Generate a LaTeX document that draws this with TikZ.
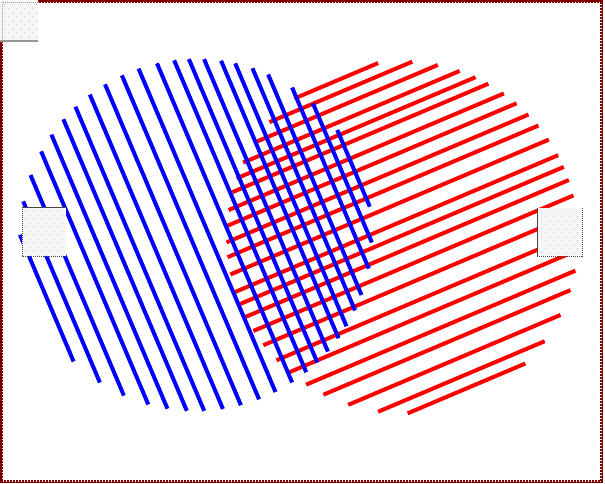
\documentclass[tikz,border=0pt]{standalone}
\usetikzlibrary{calc}
\definecolor{framered}{RGB}{128,0,0}
\definecolor{boxfill}{RGB}{246,246,246}
\definecolor{boxdot}{RGB}{195,195,195}
\definecolor{boxedge}{RGB}{70,70,70}
\definecolor{boxedgelight}{RGB}{150,150,150}
\newcommand{\mydotgrid}[4]{%
  \begin{scope}
    \clip (#1,#2) rectangle ++(#3,#4);
    \foreach \i in {0,...,6}{
      \foreach \j in {0,...,13}{
        \pgfmathsetmacro{\dx}{#1+4+8*\i+4*mod(\j,2)}
        \pgfmathsetmacro{\dy}{#2+4+4*\j}
        \fill[boxdot] (\dx-0.5,\dy-0.5) rectangle ++(1,1);
      }
    }
  \end{scope}}
\begin{document}
\begin{tikzpicture}[x=1pt,y=-1pt,
  hatch/.style={line width=4pt},
  panel/.style={draw=none,fill=boxfill,inner sep=0pt,outer sep=0pt,anchor=north west},
  solidedge/.style={draw=boxedge,line width=1pt},
  dotedge/.style={draw=boxedge,line width=1pt,dash pattern=on 1pt off 1pt}]
\useasboundingbox (0,0) rectangle (605,483);
\fill[white] (0,0) rectangle (605,483);
% frame
\draw[framered,line width=1.5pt] (0.75,0.75) rectangle (602.25,482.25);
\draw[framered,line width=1.5pt,dash pattern=on 2pt off 1pt] (2.25,2.25) rectangle (600.75,480.75);
% red hatched circle
\coordinate (rc) at (402.5,237.4);
\foreach \s in {-170,-158,-145,-131,-119,-108,-93,-79,-64,-50,-33,-15,-2,12,28,45,64,80,98,114,133,151,164}{
  \pgfmathsetmacro{\h}{100*sqrt(3.0976-(\s/100)*(\s/100))}
  \draw[hatch,red] ($(rc)+(\s*0.390,\s*0.921)+(-\h*0.921,\h*0.390)$) -- ($(rc)+(\s*0.390,\s*0.921)+(\h*0.921,-\h*0.390)$);
}
% blue hatched circle
\coordinate (bc) at (196,235);
\foreach \s in {-162,-146,-129,-110,-94,-77,-61,-43,-25,-6,12,31,48,62,76,91,103,117,129,146,159,171}{
  \pgfmathsetmacro{\h}{100*sqrt(3.0976-(\s/100)*(\s/100))}
  \draw[hatch,blue] ($(bc)+(\s*0.921,-\s*0.390)+(-\h*0.390,-\h*0.921)$) -- ($(bc)+(\s*0.921,-\s*0.390)+(\h*0.390,\h*0.921)$);
}
% panels
\node[panel,minimum width=38pt,minimum height=41pt] (tl) at (0,0) {};
\mydotgrid{0}{0}{38}{41}
\draw[draw=boxedgelight,line width=1pt,dash pattern=on 1pt off 1pt] (tl.south west) ++(2,0) -- ++(0,-39) -- ++(36,0);
\draw[draw=boxedgelight,line width=1.2pt] (tl.south west) -- (tl.south east);

\node[panel,minimum width=44pt,minimum height=49pt] (lb) at (22,207) {};
\mydotgrid{22}{207}{44}{49}
\draw[solidedge] (lb.north west) -- (lb.north east);
\draw[dotedge] (lb.north west) -- (lb.south west) -- (lb.south east);

\node[panel,minimum width=45pt,minimum height=48pt] (rb) at (537,208) {};
\mydotgrid{537}{208}{45}{48}
\draw[solidedge] (rb.north west) -- (rb.south west);
\draw[dotedge] (rb.south west) -- (rb.south east) -- (rb.north east);
\end{tikzpicture}
\end{document}
